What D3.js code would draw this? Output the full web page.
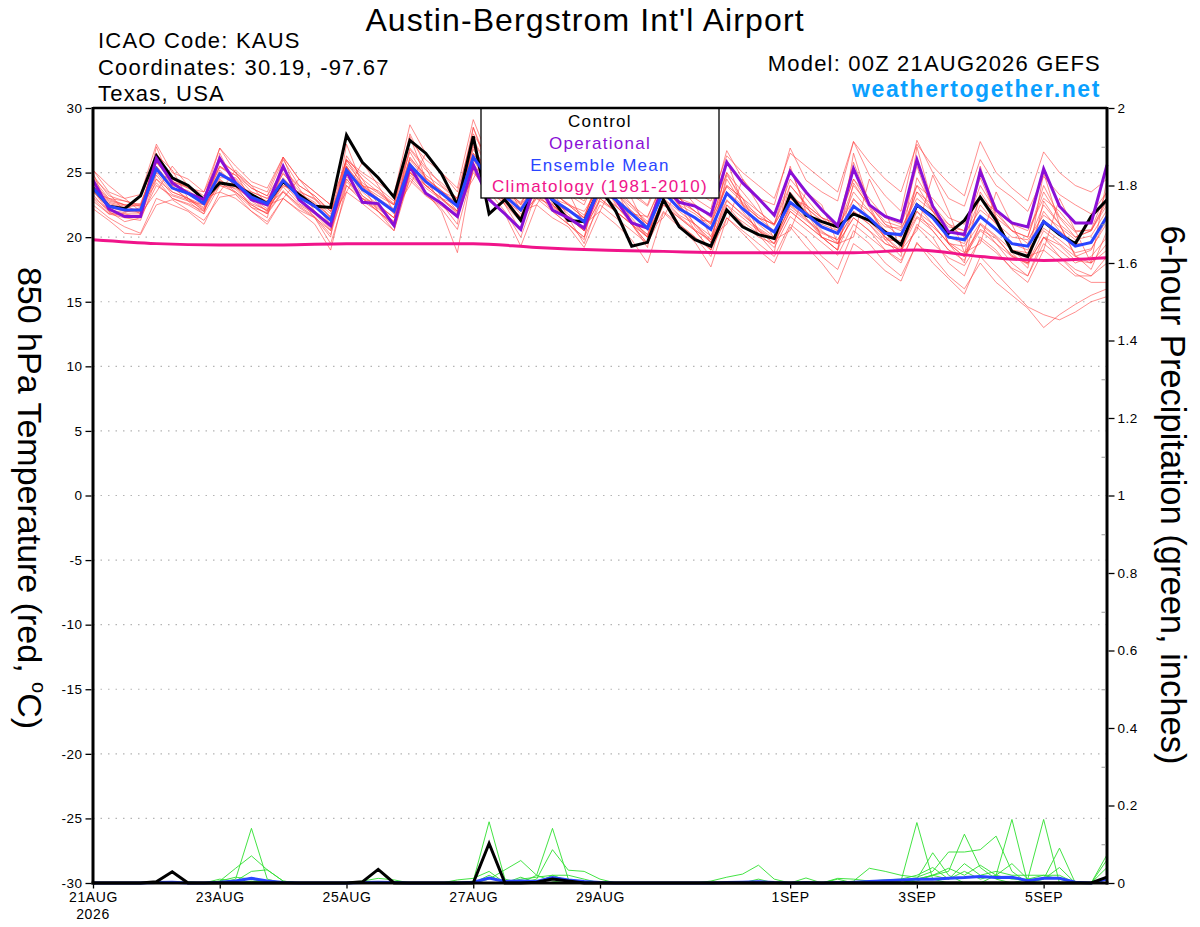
<!DOCTYPE html>
<html><head><meta charset="utf-8">
<script src="https://cdn.jsdelivr.net/npm/d3@7"></script>
<style>body{margin:0;background:#fff}svg{display:block;font-family:"Liberation Sans",Arial,Helvetica,sans-serif}</style>
</head><body><svg id="c" width="1200" height="927"></svg>
<script>
// ---------- DATA ----------
const stepHours = d3.range(0, 385, 6);            // forecast hours, 6-hourly (0..384)
const climHours = d3.range(0, 385, 24);           // daily climatology points

const controlT = [23.8,22.4,22.2,23.2, 26.3,24.6,24.0,22.9, 24.2,24.0,23.3,22.6, 24.3,23.3,22.4,22.3,
  27.9,25.8,24.6,23.1, 27.5,26.5,24.9,22.5, 27.8,21.8,22.9,21.3, 24.5,22.9,21.3,21.2,
  23.8,22.0,19.3,19.6, 22.9,20.8,19.8,19.3, 22.1,20.8,20.2,19.9, 23.3,21.7,21.2,20.8,
  21.8,21.3,20.4,19.4, 22.5,21.6,20.3,21.3, 23.1,21.3,18.9,18.5, 21.2,20.2,19.5,21.6, 22.9];
const operationalT = [24.4,22.2,21.6,21.6, 26.1,24.2,23.4,22.9, 26.1,24.2,22.9,22.5, 25.5,22.9,21.9,20.9,
  25.1,22.7,22.6,20.9, 25.5,23.4,22.6,21.6, 25.6,22.9,21.8,20.6, 24.5,22.1,21.5,20.7,
  24.0,22.9,21.1,20.7, 24.0,22.7,22.4,21.7, 25.8,24.2,23.0,21.7, 25.1,23.5,22.1,20.9,
  25.3,22.5,21.6,21.2, 26.0,22.4,20.4,20.2, 25.1,22.1,21.1,20.8, 25.3,22.4,21.1,21.1, 25.6];
const meanT = [23.8,22.4,22.1,22.1, 25.3,23.8,23.4,22.6, 24.9,24.2,23.1,22.6, 24.4,23.1,22.4,21.3,
  25.2,23.7,22.9,22.0, 25.6,24.3,23.4,22.4, 26.2,24.5,23.2,22.1, 24.0,22.9,22.1,21.2,
  23.8,22.9,21.8,20.7, 23.5,22.2,21.5,20.6, 23.4,22.2,21.2,20.4, 22.7,21.8,20.8,20.3,
  22.4,21.5,20.3,20.2, 22.5,21.5,20.0,19.8, 21.6,20.6,19.5,19.3, 21.2,20.3,19.3,19.6, 21.6];
const climatologyT = [19.8,19.5,19.4,19.4,19.5,19.5,19.5,19.2,19.0,18.9,18.8,18.8,18.8,19.0,18.5,18.2,18.4];

const memberT1 = [25.2,23.5,23.0,23.3, 27.2,25.0,24.5,23.5, 26.9,25.5,24.3,23.8, 26.2,24.5,23.5,22.5, 26.0,25.0,24.2,23.3, 28.7,26.5,25.0,23.8, 29.1,26.0,24.5,23.6, 25.5,24.0,23.5,22.8, 25.5,24.3,23.3,22.4, 25.0,23.8,23.0,22.2, 26.7,24.5,23.0,22.5, 26.9,24.4,23.5,22.8, 27.4,24.8,23.2,22.0, 27.5,25.0,23.0,22.4, 26.0,24.0,23.1,22.0, 24.7,23.3,22.5,21.8, 23.5];
const memberT2 = [22.2,21.3,20.3,20.2, 22.5,22.9,22.1,21.3, 23.1,23.3,22.0,21.2, 23.0,22.1,21.5,19.5, 23.5,22.6,21.6,20.5, 24.6,23.3,22.2,20.6, 25.2,23.1,21.8,19.3, 22.5,21.5,20.8,19.2, 22.0,21.0,19.8,18.0, 21.9,20.8,19.6,17.7, 21.5,20.3,19.0,18.0, 20.8,19.3,18.0,16.4, 19.5,18.6,17.4,16.6, 19.6,18.0,16.8,15.6, 18.5,17.2,15.9,14.6, 14.0,13.6,14.2,15.0, 15.4];
const memberT3 = [24.3,22.9,22.5,22.6, 25.8,24.3,23.9,23.0, 25.4,24.8,23.5,23.0, 24.9,23.6,22.9,21.8, 25.7,24.2,23.4,22.5, 26.1,24.8,23.9,22.9, 26.8,25.0,23.7,22.6, 24.6,23.4,22.6,21.7, 24.3,23.4,22.3,21.2, 24.0,22.7,22.0,21.1, 23.9,22.7,21.7,20.9, 23.2,22.3,21.3,20.8, 22.9,22.0,20.8,20.7, 23.0,22.0,20.5,20.3, 22.1,21.1,20.0,19.8, 21.7,20.8,19.8,20.1, 22.1];
const memberT4 = [23.3,21.9,21.6,21.6, 24.8,23.3,22.9,22.1, 24.4,23.7,22.6,22.1, 23.9,22.6,21.9,20.8, 24.7,23.2,22.4,21.5, 25.1,23.8,22.9,21.9, 25.7,24.0,22.7,21.6, 23.5,22.4,21.6,20.7, 23.3,22.4,21.3,20.2, 23.0,21.7,21.0,20.1, 22.9,21.7,20.7,19.9, 22.2,21.3,20.3,19.8, 21.9,21.0,19.8,19.7, 22.0,21.0,19.5,19.3, 21.1,20.1,19.0,18.8, 20.7,19.8,18.8,19.1, 21.1];
const memberT5 = [25.0,22.0,21.2,21.5, 27.0,24.0,22.8,21.8, 26.5,24.0,22.3,21.5, 26.2,23.0,21.5,20.0, 27.2,24.0,22.0,20.8, 27.8,24.5,22.6,21.0, 28.5,25.0,22.5,20.5, 26.0,23.0,21.0,19.8, 26.0,23.0,21.0,19.2, 26.5,22.5,20.5,19.0, 26.0,22.5,20.2,18.8, 25.5,22.0,20.0,19.0, 26.5,22.5,20.0,18.8, 27.0,22.5,19.5,18.5, 25.5,21.5,19.0,18.0, 25.0,21.0,18.5,18.0, 24.5];
const memberT6 = [23.5,23.0,22.5,21.8, 23.5,25.5,24.0,23.0, 23.5,25.2,24.0,22.5, 23.0,24.5,23.0,21.5, 23.5,25.8,24.0,22.0, 24.0,26.5,25.0,22.5, 24.5,27.0,24.5,22.0, 22.5,24.5,23.5,21.0, 22.0,24.5,23.0,20.5, 21.5,24.0,22.5,20.0, 21.0,24.5,22.5,19.8, 20.5,23.5,22.5,19.5, 20.0,24.5,22.0,19.0, 20.5,24.8,22.0,18.8, 19.5,23.5,21.0,18.5, 19.0,23.0,20.5,18.0, 19.5];
const memberT7 = [24.5,23.0,22.8,22.5, 25.8,24.5,24.0,23.2, 25.5,24.8,23.8,23.2, 25.2,24.0,23.2,22.0, 26.0,24.8,23.8,22.8, 26.8,25.2,24.2,23.0, 27.5,25.5,24.0,23.0, 25.5,24.2,23.3,22.5, 25.5,24.5,23.5,22.5, 25.8,24.5,23.5,22.8, 26.3,25.0,24.0,23.0, 26.5,25.5,24.5,23.5, 27.4,25.8,24.5,23.5, 27.2,25.5,24.2,23.2, 27.4,25.0,23.8,22.8, 26.6,25.0,24.0,23.5, 24.5];
const memberT8 = [23.0,21.8,21.5,21.3, 24.5,23.0,22.5,21.8, 24.0,23.5,22.5,21.8, 23.5,22.3,21.5,20.5, 24.0,22.8,22.0,21.0, 24.8,23.5,22.5,21.5, 25.5,23.8,22.5,21.2, 23.0,22.0,21.0,20.0, 22.5,21.5,20.5,19.5, 22.0,21.0,20.0,19.0, 21.5,20.5,19.5,18.5, 21.0,20.0,18.5,17.5, 20.5,19.5,18.0,17.0, 19.5,18.5,17.0,16.0, 18.0,16.5,15.5,14.5, 13.0,14.0,14.8,15.5, 16.0];
const memberT9 = [24.8,23.2,22.8,22.4, 26.0,24.2,23.5,22.5, 25.5,24.5,23.0,22.2, 25.0,23.3,22.5,21.0, 25.5,23.5,22.5,21.5, 26.2,24.6,23.5,22.0, 27.0,24.8,23.0,21.5, 24.5,23.0,21.8,20.5, 24.5,23.0,21.5,20.0, 24.0,22.5,21.0,19.8, 24.5,22.5,21.0,20.0, 23.5,22.0,20.5,19.5, 23.0,21.5,20.0,19.0, 22.0,20.5,19.0,18.2, 21.0,19.5,18.0,17.0, 20.0,18.5,17.5,17.0, 18.5];
const memberT10 = [22.5,21.5,20.8,20.3, 23.0,22.5,22.0,21.0, 23.5,23.0,22.0,21.0, 23.0,22.0,21.0,19.0, 24.0,23.0,22.0,20.5, 25.0,23.5,22.0,18.8, 25.5,23.5,22.0,20.0, 23.5,22.5,21.5,19.5, 23.0,22.0,21.0,19.5, 22.5,21.5,20.5,19.0, 23.5,22.0,20.5,19.5, 22.5,21.5,20.0,19.0, 22.0,21.0,19.5,19.0, 22.5,21.0,19.5,18.5, 21.0,20.0,18.5,18.0, 20.5,19.5,18.5,19.0, 21.5];
const memberT11 = [25.2,24.0,23.0,22.0, 26.5,24.5,23.8,23.5, 26.0,25.0,24.0,23.5, 26.2,24.5,23.5,22.5, 25.9,24.5,23.5,22.5, 27.5,26.0,25.0,23.5, 28.0,26.0,24.5,23.0, 24.5,23.5,22.5,21.5, 25.0,24.0,22.5,21.5, 24.5,23.0,22.0,21.0, 24.0,23.0,22.0,21.0, 24.5,23.0,21.5,20.5, 24.0,22.5,21.0,20.0, 23.5,22.0,21.0,20.0, 23.0,21.5,20.5,19.5, 22.5,21.0,20.0,20.5, 23.0];
const memberT12 = [24.0,22.6,22.3,22.5, 24.5,23.5,23.0,22.0, 25.0,24.0,23.5,23.0, 24.0,23.5,23.0,22.0, 24.5,23.0,22.5,21.0, 25.0,24.0,23.5,23.0, 26.5,25.0,24.0,22.5, 24.0,23.0,22.5,22.0, 24.0,23.5,22.5,21.0, 23.5,23.0,22.5,21.5, 24.0,23.0,21.5,21.0, 23.0,22.5,21.5,21.0, 24.5,23.0,21.5,21.0, 24.0,23.0,21.5,21.0, 23.0,22.0,21.0,20.5, 23.0,22.0,20.5,20.5, 22.5];
const memberT13 = [23.6,22.0,21.8,21.8, 25.0,23.5,23.0,22.3, 24.5,23.5,22.5,21.8, 24.5,23.0,22.0,20.8, 26.0,24.0,23.0,21.8, 25.0,24.0,23.0,22.0, 26.0,24.0,22.8,22.0, 23.5,22.0,21.0,20.0, 24.5,22.5,21.0,19.5, 23.0,21.0,20.0,18.5, 22.5,21.0,20.0,19.5, 22.0,21.0,20.0,19.5, 21.5,20.5,19.0,18.0, 21.0,20.0,18.0,17.0, 20.0,19.0,17.5,16.5, 19.0,18.0,17.0,17.0, 18.0];
const memberT14 = [23.9,22.5,22.2,22.0, 25.5,24.0,23.6,22.8, 25.0,24.3,23.3,22.8, 24.6,23.3,22.6,21.6, 25.5,23.9,23.0,22.2, 26.0,24.5,23.6,22.6, 26.5,24.7,23.4,22.3, 24.3,23.0,22.2,21.3, 24.0,23.0,22.0,21.0, 23.8,22.5,21.8,20.8, 23.5,22.5,21.5,20.5, 23.0,22.0,21.0,20.5, 23.5,22.0,20.5,20.0, 24.0,22.0,20.0,19.5, 22.5,21.0,19.5,19.0, 22.0,20.5,19.5,19.5, 21.8];
const memberT15 = [24.2,22.8,22.5,22.4, 25.8,24.3,23.8,23.0, 26.9,25.0,23.8,23.2, 26.0,24.0,23.2,22.0, 25.0,24.0,23.2,22.5, 28.0,25.5,24.0,23.0, 28.5,25.5,23.5,22.5, 25.0,23.5,22.5,21.5, 24.5,23.5,22.0,21.0, 24.0,23.0,22.0,21.0, 25.0,23.5,22.0,21.0, 24.0,22.5,21.5,21.0, 24.5,22.5,21.0,20.5, 23.5,22.5,21.0,20.5, 24.0,22.0,20.5,20.0, 23.5,21.5,20.0,20.5, 22.8];
const memberT16 = [22.8,21.8,21.8,21.5, 24.0,23.2,22.8,22.5, 24.0,23.8,23.0,22.5, 23.5,22.5,21.8,20.5, 24.5,23.0,22.0,21.0, 25.5,24.0,23.0,22.5, 26.0,24.5,23.0,21.8, 23.0,22.5,21.5,20.5, 23.0,22.0,21.0,20.0, 22.5,21.5,20.5,19.8, 22.5,21.5,20.5,19.5, 22.0,21.0,20.0,19.5, 21.5,20.5,19.5,19.0, 21.5,20.5,19.0,18.5, 20.5,19.5,18.5,18.0, 20.0,19.0,18.0,18.5, 20.0];
const memberT17 = [24.6,23.4,22.0,21.9, 26.4,25.2,23.0,22.2, 25.9,25.0,22.8,22.0, 25.3,23.8,22.0,20.6, 26.3,24.5,22.5,21.5, 26.9,25.4,23.0,22.0, 27.4,25.3,22.7,21.5, 24.8,23.6,21.5,20.5, 24.9,23.8,21.2,20.0, 24.8,23.2,20.8,19.6, 24.8,23.0,20.5,19.8, 24.0,22.6,20.0,19.0, 24.2,22.3,19.8,18.5, 24.6,22.5,19.5,18.0, 23.5,21.6,18.8,17.6, 22.8,21.0,18.6,17.5, 20.5];
const memberT18 = [23.1,22.1,21.9,22.3, 24.2,23.0,22.6,22.0, 24.3,23.4,22.3,21.9, 23.6,22.4,21.6,20.2, 24.3,23.0,22.2,21.2, 24.4,23.2,22.4,21.6, 25.0,23.5,22.6,21.4, 23.2,22.3,21.6,20.7, 22.8,22.0,21.0,20.0, 22.8,21.6,20.6,19.6, 22.0,21.2,20.3,19.2, 21.6,20.6,19.6,18.6, 21.0,20.0,19.0,18.2, 20.8,19.5,18.4,17.8, 19.8,18.8,17.6,17.0, 19.5,18.5,17.2,16.5, 16.5];
const memberT19 = [24.0,22.7,22.4,22.0, 25.0,24.4,23.3,22.6, 24.6,24.6,23.2,22.4, 24.0,23.4,22.7,21.5, 25.4,24.0,23.6,22.6, 26.6,24.6,23.6,22.5, 27.2,24.2,23.5,22.7, 24.8,22.6,22.0,21.5, 24.8,22.6,21.8,21.6, 24.2,22.4,21.4,21.2, 25.0,22.6,21.5,21.0, 25.3,22.3,21.2,21.0, 25.8,22.6,21.2,20.8, 25.5,22.0,20.8,20.5, 24.6,21.8,20.5,20.0, 24.0,21.6,20.4,20.6, 23.6];
const memberT20 = [23.5,22.3,22.0,22.0, 25.5,23.8,23.0,22.5, 25.2,23.9,23.0,22.0, 24.2,22.8,22.0,21.0, 25.5,23.2,22.3,21.2, 25.8,24.0,23.0,21.8, 26.4,24.2,22.8,21.5, 23.8,22.5,21.5,20.5, 23.5,22.4,21.2,20.2, 23.0,22.0,21.0,19.6, 22.8,21.8,20.6,19.8, 22.4,21.4,20.4,19.8, 22.0,21.2,20.0,19.5, 21.6,20.8,19.6,18.8, 20.6,19.9,18.6,17.9, 20.0,19.4,18.2,18.0, 19.0];
const membersT = [memberT1,memberT2,memberT3,memberT4,memberT5,memberT6,memberT7,memberT8,memberT9,memberT10,
  memberT11,memberT12,memberT13,memberT14,memberT15,memberT16,memberT17,memberT18,memberT19,memberT20];

// 6-hour precipitation (inches)
const precipG1 = [0,0,0,0,0,0,0,0, 0,0.01,0.141,0.01,0,0,0,0, 0,0,0,0,0,0,0,0, 0.005,0.158,0.01,0,0,0,0,0, 0,0,0,0,0,0,0,0, 0,0,0,0,0,0,0,0, 0,0,0,0.005,0.156,0.01,0,0, 0,0.02,0.164,0,0,0,0,0, 0];
const precipG2 = [0,0,0,0,0,0,0,0, 0.005,0.038,0.07,0.034,0.005,0,0,0, 0,0,0,0,0,0,0,0, 0,0,0,0,0.02,0.141,0.01,0, 0,0,0,0,0,0,0,0, 0,0,0,0,0,0,0,0, 0,0,0.005,0,0.01,0.078,0.02,0, 0,0,0,0.01,0.164,0,0,0, 0];
const precipG3 = [0,0,0,0,0,0,0,0, 0.01,0.005,0.03,0.034,0.005,0,0,0, 0,0,0,0,0,0,0,0, 0,0.01,0.034,0.058,0.02,0.005,0,0, 0,0,0,0,0,0,0,0, 0,0,0,0,0,0,0,0, 0,0,0,0,0.005,0.02,0.03,0.126, 0.04,0.01,0,0,0.01,0.09,0,0, 0];
const precipG4 = [0,0,0,0,0,0,0,0, 0,0,0.005,0,0,0,0,0, 0,0,0,0,0,0,0,0, 0,0.02,0,0,0.01,0.086,0.033,0.03, 0.01,0,0,0,0,0,0,0, 0,0,0,0,0,0,0,0, 0.005,0.038,0.03,0.02,0.015,0.03,0.08,0.08, 0.086,0.121,0.03,0,0,0,0,0, 0];
const precipG5 = [0,0,0,0,0,0,0,0, 0,0,0,0,0,0,0,0, 0,0,0,0,0,0,0,0, 0,0,0,0,0,0,0,0, 0,0,0,0,0,0,0,0.005, 0.015,0.023,0.046,0.01,0,0.013,0,0, 0,0,0,0,0.01,0.02,0.038,0.02, 0.046,0.02,0.05,0.01,0.01,0.04,0,0, 0.073];
const precipG6 = [0,0,0,0,0,0,0.003,0, 0.005,0.015,0.01,0,0,0,0,0, 0,0.005,0.012,0.008,0,0,0,0.008, 0.012,0.03,0,0.01,0.015,0.02,0.005,0, 0,0,0,0,0,0,0,0, 0,0,0,0,0,0,0,0.012, 0.01,0.005,0.008,0.01,0.02,0.04,0.01,0.03, 0.01,0.02,0.01,0.01,0.02,0.02,0,0, 0.04];
const precipG7 = [0,0,0,0,0,0,0,0, 0,0,0.003,0.005,0,0,0,0, 0,0,0,0,0,0,0,0, 0,0,0,0.015,0,0.02,0.02,0.01, 0,0,0,0,0,0,0,0, 0,0,0.01,0,0,0,0,0.01, 0,0,0,0,0.01,0.02,0.01,0.05, 0.02,0.03,0.02,0.02,0.02,0.01,0,0, 0.06];
const membersP = [precipG1,precipG2,precipG3,precipG4,precipG5,precipG6,precipG7];
const meanP = [0,0,0,0,0.001,0.002,0,0, 0.002,0.005,0.012,0.005,0.001,0,0,0, 0,0.001,0.002,0.001,0,0,0,0, 0.002,0.013,0.004,0.005,0.004,0.014,0.008,0.004, 0.001,0,0,0,0,0,0,0, 0.001,0.002,0.003,0.001,0,0.001,0,0.001, 0.002,0.004,0.006,0.008,0.01,0.01,0.012,0.014, 0.017,0.014,0.015,0.006,0.012,0.012,0.002,0, 0.01];
const controlP = [0,0,0,0,0.003,0.029,0,0, 0,0,0,0,0,0,0,0, 0,0.003,0.035,0,0,0,0,0, 0,0.102,0,0,0.002,0.01,0.005,0, 0,0,0,0,0,0,0,0, 0,0,0,0,0,0,0,0, 0,0,0,0,0,0,0,0, 0,0,0,0,0,0,0,0, 0.015];

const tempTicks = [-30,-25,-20,-15,-10,-5,0,5,10,15,20,25,30];
const precipTicks = [0,0.2,0.4,0.6,0.8,1,1.2,1.4,1.6,1.8,2];
const precipMinorTicks = [0.1,0.3,0.5,0.7,0.9,1.1,1.3,1.5,1.7,1.9];
const dateTickHours = [0,48,96,144,192,264,312,360];
const dateTickLabels = ['21AUG','23AUG','25AUG','27AUG','29AUG','1SEP','3SEP','5SEP'];
const legendItems = [['Control','#000000'],['Operational','#8a0fd6'],['Ensemble Mean','#2a45ff'],['Climatology (1981-2010)','#f0148a']];

// ---------- CHART ----------
const svg = d3.select('#c');
const L=93, R=1107, T=108, B=883;
const x = d3.scaleLinear().domain([0,384]).range([L,R]);
const yT = d3.scaleLinear().domain([-30,30]).range([B,T]);
const yP = d3.scaleLinear().domain([0,2]).range([B,T]);

// grid
svg.append('g').selectAll('line').data(tempTicks.filter(v=>v>-30&&v<30)).join('line')
  .attr('x1',L).attr('x2',R).attr('y1',d=>yT(d)).attr('y2',d=>yT(d))
  .attr('stroke','#b4b4b4').attr('stroke-width',1.2).attr('stroke-dasharray','1.5,6');

const lineT = d3.line().x((d,i)=>x(stepHours[i])).y(d=>yT(d));
const lineP = d3.line().x((d,i)=>x(stepHours[i])).y(d=>yP(d));

// ensemble members
svg.append('g').selectAll('path').data(membersT).join('path')
  .attr('d',lineT).attr('fill','none').attr('stroke','#ff3c3c').attr('stroke-opacity',0.72).attr('stroke-width',0.8);
svg.append('g').selectAll('path').data(membersP).join('path')
  .attr('d',lineP).attr('fill','none').attr('stroke','#2fe02f').attr('stroke-width',0.9);

// climatology
svg.append('path').datum(climatologyT)
  .attr('d',d3.line().x((d,i)=>x(climHours[i])).y(d=>yT(d)).curve(d3.curveMonotoneX))
  .attr('fill','none').attr('stroke','#f0148a').attr('stroke-width',3);

// precip mean & control
svg.append('path').datum(meanP).attr('d',lineP).attr('fill','none').attr('stroke','#2a45ff').attr('stroke-width',3);
svg.append('path').datum(controlP).attr('d',lineP).attr('fill','none').attr('stroke','#000').attr('stroke-width',3);

// temperature main lines
svg.append('path').datum(controlT).attr('d',lineT).attr('fill','none').attr('stroke','#000').attr('stroke-width',3);
svg.append('path').datum(operationalT).attr('d',lineT).attr('fill','none').attr('stroke','#8a0fd6').attr('stroke-width',3);
svg.append('path').datum(meanT).attr('d',lineT).attr('fill','none').attr('stroke','#2a45ff').attr('stroke-width',3);

// legend
const lg = svg.append('g');
lg.append('rect').attr('x',481).attr('y',T).attr('width',238).attr('height',90)
  .attr('fill','#fff').attr('stroke','#000').attr('stroke-width',1.3);
lg.selectAll('text').data(legendItems).join('text')
  .attr('x',600).attr('y',(d,i)=>127+i*21.8).attr('text-anchor','middle')
  .attr('font-size',17).attr('letter-spacing',1.3).attr('fill',d=>d[1]).text(d=>d[0]);

// frame
const fr = svg.append('g').attr('stroke','#000').attr('fill','none');
fr.append('line').attr('x1',L).attr('x2',R).attr('y1',T).attr('y2',T).attr('stroke-width',2.5);
fr.append('line').attr('x1',L-1.5).attr('x2',R+1.5).attr('y1',B).attr('y2',B).attr('stroke-width',3);
fr.append('line').attr('x1',L).attr('x2',L).attr('y1',T-1).attr('y2',B+1.5).attr('stroke-width',3);
fr.append('line').attr('x1',R).attr('x2',R).attr('y1',T-1).attr('y2',B+1.5).attr('stroke-width',3);

// axes
const axL = svg.append('g').attr('transform',`translate(${L-1.5},0)`)
  .call(d3.axisLeft(yT).tickValues(tempTicks).tickSize(6).tickPadding(3).tickFormat(d=>String(d)));
const axR = svg.append('g').attr('transform',`translate(${R+1.5},0)`)
  .call(d3.axisRight(yP).tickValues(precipTicks).tickSize(6).tickPadding(3).tickFormat(d=>String(+d.toFixed(1))));
svg.append('g').attr('transform',`translate(${R-1.5},0)`)
  .call(d3.axisLeft(yP).tickValues(precipMinorTicks).tickSize(4).tickFormat(''))
  .call(g=>{g.select('.domain').remove(); g.selectAll('line').attr('stroke','#999');});
const axB = svg.append('g').attr('transform',`translate(0,${B+1.5})`)
  .call(d3.axisBottom(x).tickValues(dateTickHours).tickSize(4).tickPadding(4).tickFormat((d,i)=>dateTickLabels[i]));
[axL,axR,axB].forEach(g=>{
  g.select('.domain').remove();
  g.selectAll('line').attr('stroke','#000').attr('stroke-width',1.3);
  g.selectAll('text').attr('font-family','"Liberation Sans",Arial,sans-serif').attr('fill','#000');
});
axL.selectAll('text').attr('font-size',13.5).attr('letter-spacing',0.5);
axR.selectAll('text').attr('font-size',13.5).attr('letter-spacing',0.5);
axB.selectAll('text').attr('font-size',14).attr('letter-spacing',0.6);
svg.append('text').attr('x',x(0)).attr('y',919).attr('text-anchor','middle')
  .attr('font-size',14).attr('letter-spacing',0.6).text('2026');

// axis titles
const tl = svg.append('text').attr('transform','translate(18,498) rotate(90)')
  .attr('text-anchor','middle').attr('font-size',34);
tl.append('tspan').text('850 hPa Temperature (red, ');
tl.append('tspan').attr('font-size',20).attr('dy',-14).text('o');
tl.append('tspan').attr('dy',14).text('C)');
svg.append('text').attr('transform','translate(1161,495) rotate(90)')
  .attr('text-anchor','middle').attr('font-size',34.5).text('6-hour Precipitation (green, inches)');

// header
svg.append('text').attr('x',585).attr('y',31).attr('text-anchor','middle')
  .attr('font-size',32).attr('letter-spacing',1.1).text("Austin-Bergstrom Int'l Airport");
const hdr = ['ICAO Code: KAUS','Coordinates: 30.19, -97.67','Texas, USA'];
svg.append('g').selectAll('text').data(hdr).join('text')
  .attr('x',98).attr('y',(d,i)=>48+i*26.5).attr('font-size',22).attr('letter-spacing',1.2).text(d=>d);
svg.append('text').attr('x',1101).attr('y',71).attr('text-anchor','end')
  .attr('font-size',22).attr('letter-spacing',1.2).text('Model: 00Z 21AUG2026 GEFS');
svg.append('text').attr('x',1101).attr('y',97).attr('text-anchor','end')
  .attr('font-size',23).attr('font-weight','bold').attr('letter-spacing',1.6).attr('fill','#0aa0ff').text('weathertogether.net');
</script></body></html>
